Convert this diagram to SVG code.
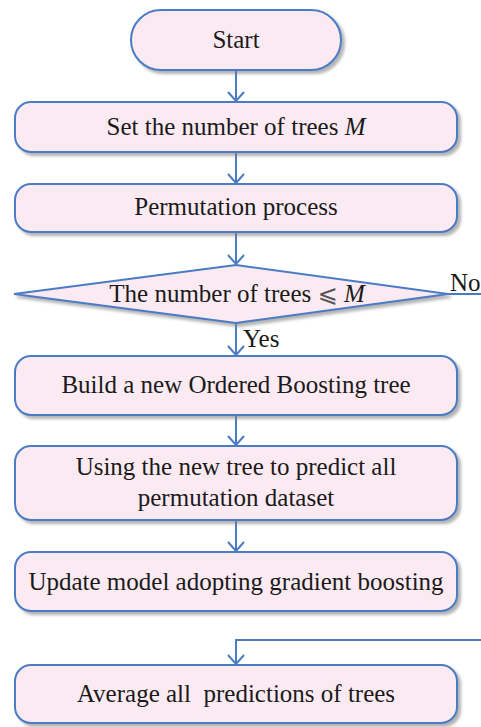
<svg xmlns="http://www.w3.org/2000/svg" width="481" height="727" viewBox="0 0 481 727">
<style>
.node{fill:#fbeaf2;stroke:#4a7cc4;stroke-width:2;filter:url(#sh)}
.t{font-family:"Liberation Serif","Times New Roman",serif;font-size:25px;fill:#1a1a1a;text-anchor:middle;white-space:pre}
.lbl{font-family:"Liberation Serif","Times New Roman",serif;font-size:25px;fill:#1a1a1a}
.c{fill:none;stroke:#4a7cc4;stroke-width:2;marker-end:url(#ah)}
</style>
<defs>
<filter id="sh" x="-10%" y="-20%" width="130%" height="150%">
<feDropShadow dx="3" dy="3" stdDeviation="1.5" flood-color="#808080" flood-opacity="0.6"/>
</filter>
<marker id="ah" viewBox="0 0 12 20" refX="11" refY="10" markerWidth="12" markerHeight="20" markerUnits="userSpaceOnUse" orient="auto">
<path d="M2,2 L11,10 L2,18" fill="none" stroke="#4a7cc4" stroke-width="2"/>
</marker>
</defs>
<g id="connectors">
<path class="c" d="M236,70 V101"/>
<path class="c" d="M236,152 V183"/>
<path class="c" d="M236,232 V264"/>
<path class="c" d="M236,323 V355"/>
<path class="c" d="M236,415 V445"/>
<path class="c" d="M236,520 V551"/>
<path class="c" d="M448,294 H495 V640 H236 V664"/>
<text class="lbl" x="243" y="347">Yes</text>
<text class="lbl" x="450" y="291">No</text>
</g>
<g id="start">
<rect class="node" x="131" y="10" width="210" height="60" rx="30"/>
<text class="t" x="236" y="48">Start</text>
</g>
<g id="set-trees">
<rect class="node" x="15" y="102" width="442" height="50" rx="16"/>
<text class="t" x="236" y="135">Set the number of trees <tspan font-style="italic">M</tspan></text>
</g>
<g id="permutation">
<rect class="node" x="15" y="184" width="442" height="48" rx="16"/>
<text class="t" x="236" y="215">Permutation process</text>
</g>
<g id="decision">
<polygon class="node" points="236,265 448,294 236,323 14,294"/>
<text class="t" x="237" y="302">The number of trees <tspan font-family="DejaVu Sans" font-size="24" fill="#555">⩽</tspan> <tspan font-style="italic">M</tspan></text>
</g>
<g id="build-tree">
<rect class="node" x="15" y="356" width="442" height="59" rx="16"/>
<text class="t" x="236" y="393">Build a new Ordered Boosting tree</text>
</g>
<g id="predict">
<rect class="node" x="15" y="446" width="442" height="74" rx="16"/>
<text class="t" x="236" y="475">Using the new tree to predict all</text>
<text class="t" x="236" y="506">permutation dataset</text>
</g>
<g id="update">
<rect class="node" x="15" y="552" width="442" height="59" rx="16"/>
<text class="t" x="236" y="590">Update model adopting gradient boosting</text>
</g>
<g id="average">
<rect class="node" x="15" y="665" width="442" height="58" rx="16"/>
<text class="t" x="236" y="702">Average all  predictions of trees</text>
</g>
</svg>
